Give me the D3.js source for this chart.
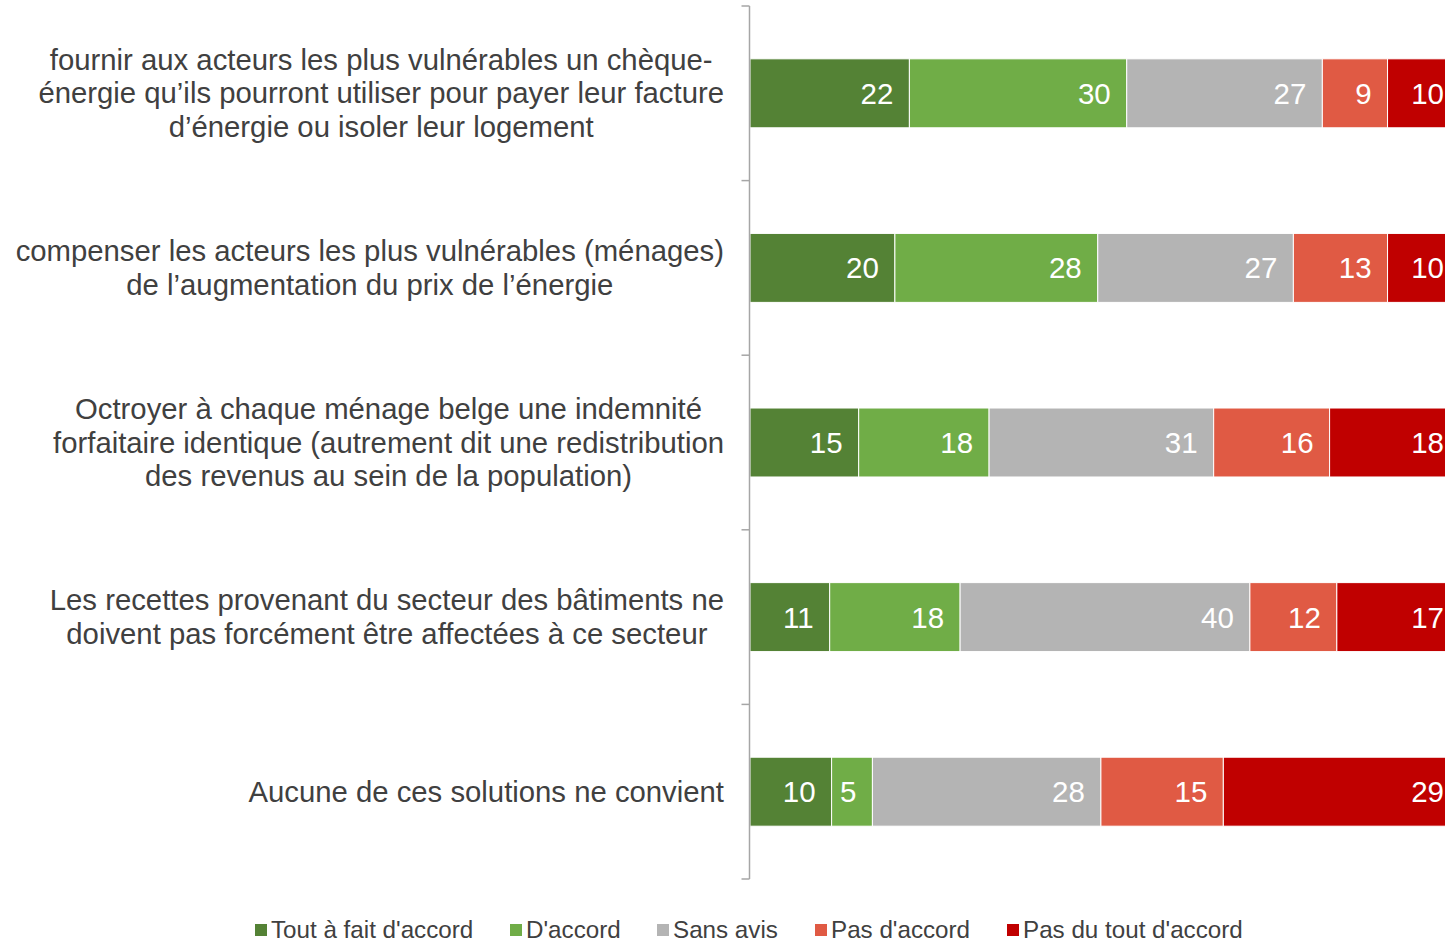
<!DOCTYPE html>
<html>
<head>
<meta charset="utf-8">
<script src="https://cdn.jsdelivr.net/npm/d3@7"></script>
<style>
  body { margin: 0; background: #fff; }
  svg { display: block; font-family: "Liberation Sans", Arial, sans-serif; }
</style>
</head>
<body>
<svg id="chart" width="1445" height="940"></svg>
<script>
// categories, top to bottom (each entry is the lines of the label)
const categories = [
  ["fournir aux acteurs les plus vulnérables un chèque-", "énergie qu’ils pourront utiliser pour payer leur facture", "d’énergie ou isoler leur logement"],
  ["compenser les acteurs les plus vulnérables (ménages)", "de l’augmentation du prix de l’énergie"],
  ["Octroyer à chaque ménage belge une indemnité", "forfaitaire identique (autrement dit une redistribution", "des revenus au sein de la population)"],
  ["Les recettes provenant du secteur des bâtiments ne", "doivent pas forcément être affectées à ce secteur"],
  ["Aucune de ces solutions ne convient"]
];
const seriesNames = ["Tout à fait d'accord", "D'accord", "Sans avis", "Pas d'accord", "Pas du tout d'accord"];
const toutAFait   = [22, 20, 15, 11, 10];
const daccord     = [30, 28, 18, 18, 5];
const sansAvis    = [27, 27, 31, 40, 28];
const pasDaccord  = [9, 13, 16, 12, 15];
const pasDuTout   = [10, 10, 18, 17, 29];
const colors = ["#548235", "#70ad47", "#b4b4b4", "#e05a44", "#c00000"];

const svg = d3.select("#chart");
const plotLeft = 750, plotRight = 1460, plotTop = 6, plotBottom = 879;

const rows = categories.map((c, i) => {
  const vals = [toutAFait[i], daccord[i], sansAvis[i], pasDaccord[i], pasDuTout[i]];
  const tot = d3.sum(vals);
  const o = { idx: i };
  seriesNames.forEach((s, j) => o[s] = vals[j] / tot);
  o.raw = vals;
  return o;
});

const stacked = d3.stack().keys(seriesNames)(rows);

const x = d3.scaleLinear().domain([0, 1]).range([plotLeft, plotRight]);
const y = d3.scaleBand().domain(d3.range(categories.length)).range([plotTop, plotBottom]).paddingInner(0.605).paddingOuter(0.3025);

// bars
const layer = svg.append("g").selectAll("g")
  .data(stacked)
  .join("g")
  .attr("fill", (d, i) => colors[i]);

layer.selectAll("rect")
  .data(d => d)
  .join("rect")
  .attr("x", d => x(d[0]))
  .attr("y", d => y(d.data.idx))
  .attr("width", d => x(d[1]) - x(d[0]))
  .attr("height", y.bandwidth())
  .attr("stroke", "#fff")
  .attr("stroke-width", 1);

// value labels, inside end
layer.each(function(s, j) {
  d3.select(this).selectAll("text")
    .data(s)
    .join("text")
    .attr("x", d => x(d[1]) - 16)
    .attr("y", d => y(d.data.idx) + y.bandwidth() / 2 + 10.5)
    .attr("text-anchor", "end")
    .attr("fill", "#fff")
    .attr("font-size", 29.5)
    .text(d => d.data.raw[j]);
});

// axis
const axisG = svg.append("g").attr("transform", `translate(${plotLeft - 0.5},0)`);
axisG.append("line")
  .attr("x1", 0).attr("x2", 0).attr("y1", plotTop).attr("y2", plotBottom)
  .attr("stroke", "#a6a6a6").attr("stroke-width", 1.5);
const tickYs = d3.range(categories.length + 1).map(i => plotTop + i * (plotBottom - plotTop) / categories.length);
axisG.selectAll("line.tick")
  .data(tickYs)
  .join("line")
  .attr("class", "tick")
  .attr("x1", -8).attr("x2", 0)
  .attr("y1", d => d).attr("y2", d => d)
  .attr("stroke", "#a6a6a6").attr("stroke-width", 1.5);

// category labels: block right-aligned at 724, lines centered in block
const lineH = 33.5;
const labG = svg.append("g").attr("fill", "#404040").attr("font-size", 29.3);
categories.forEach((lines, i) => {
  const g = labG.append("g");
  const cy = y(i) + y.bandwidth() / 2;
  const ts = lines.map((l, k) => g.append("text")
    .attr("y", cy + (k - (lines.length - 1) / 2) * lineH + 10)
    .attr("text-anchor", "middle")
    .text(l));
  const widths = ts.map(t => t.node().getComputedTextLength());
  const maxW = d3.max(widths);
  ts.forEach(t => t.attr("x", 724 - maxW / 2));
});

// legend
const legendX = [255, 510, 657, 815, 1007];
const leg = svg.append("g").selectAll("g")
  .data(seriesNames)
  .join("g")
  .attr("transform", (d, i) => `translate(${legendX[i]},924)`);
leg.append("rect").attr("width", 12).attr("height", 12).attr("fill", (d, i) => colors[i]);
leg.append("text")
  .attr("x", 16).attr("y", 14)
  .attr("fill", "#404040")
  .attr("font-size", 24.2)
  .text(d => d);
</script>
</body>
</html>
